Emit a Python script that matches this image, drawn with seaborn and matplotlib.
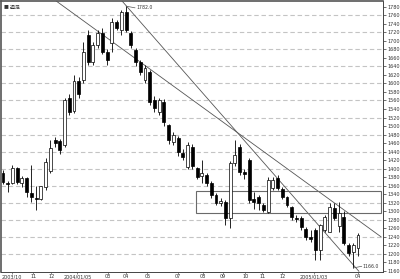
import matplotlib
matplotlib.use("Agg")
import matplotlib.pyplot as plt
import seaborn as sns
import numpy as np
import pandas as pd
from matplotlib.patches import Rectangle

# ---- data (weekly candles) ----
opens = [1389, 1366, 1366, 1401, 1366, 1378, 1342, 1330, 1328, 1356, 1394, 1467, 1465,
         1455, 1565, 1535, 1605, 1608, 1714, 1651, 1691, 1719, 1674, 1695, 1745, 1726,
         1768, 1719, 1679, 1651, 1608, 1627, 1561, 1533, 1556, 1502, 1462, 1472, 1437,
         1404, 1451, 1401, 1382, 1385, 1366, 1338, 1319, 1321, 1283, 1413, 1451, 1392,
         1420, 1328, 1333, 1314, 1298, 1354, 1378, 1352, 1333, 1309, 1284, 1284, 1258,
         1239, 1255, 1208, 1255, 1250, 1307, 1265, 1286, 1220, 1203, 1213]
highs = [1396, 1370, 1408, 1403, 1382, 1380, 1408, 1358, 1360, 1425, 1467, 1475, 1470,
         1565, 1575, 1620, 1615, 1698, 1726, 1698, 1726, 1730, 1680, 1754, 1749, 1772,
         1782, 1724, 1684, 1655, 1644, 1632, 1570, 1566, 1563, 1505, 1486, 1476, 1445,
         1462, 1458, 1404, 1420, 1390, 1370, 1342, 1330, 1326, 1418, 1467, 1458, 1398,
         1425, 1345, 1338, 1320, 1380, 1380, 1385, 1356, 1336, 1312, 1290, 1288, 1262,
         1255, 1260, 1270, 1290, 1318, 1320, 1321, 1300, 1225, 1225, 1248]
lows = [1363, 1345, 1363, 1364, 1356, 1333, 1321, 1302, 1325, 1350, 1390, 1450, 1435,
        1450, 1525, 1530, 1565, 1600, 1644, 1644, 1684, 1670, 1644, 1675, 1726, 1714,
        1720, 1684, 1640, 1620, 1600, 1550, 1533, 1526, 1500, 1458, 1455, 1430, 1420,
        1400, 1400, 1375, 1366, 1360, 1330, 1313, 1312, 1267, 1260, 1405, 1385, 1375,
        1318, 1305, 1302, 1298, 1295, 1349, 1349, 1328, 1310, 1280, 1275, 1255, 1232,
        1228, 1185, 1185, 1250, 1250, 1278, 1250, 1220, 1195, 1166, 1195]
closes = [1368, 1364, 1401, 1368, 1378, 1345, 1333, 1328, 1358, 1416, 1448, 1460, 1444,
          1561, 1533, 1605, 1575, 1674, 1651, 1691, 1719, 1674, 1655, 1745, 1731, 1768,
          1726, 1691, 1651, 1627, 1636, 1556, 1542, 1561, 1509, 1467, 1479, 1439, 1427,
          1455, 1406, 1380, 1389, 1366, 1338, 1319, 1324, 1283, 1413, 1432, 1392, 1387,
          1326, 1321, 1319, 1302, 1373, 1373, 1354, 1333, 1314, 1286, 1281, 1262, 1239,
          1234, 1208, 1267, 1286, 1309, 1283, 1295, 1225, 1201, 1220, 1244]

ytick_values = list(range(1160, 1781, 20))
grid_values = list(range(1200, 1761, 40))
xtick_pos = [1.9, 6.4, 10.2, 15.7, 22.1, 25.9, 30.5, 36.9, 42.2, 46.4, 51.2, 54.8, 59.0, 65.6, 74.9]
xtick_labels = ["2003/10", "11", "12", "2004/01/05", "03", "04", "05", "07", "08", "09",
                "10", "11", "12", "2005/01/03", "04"]

trend1_x = [11.0, 79.9]
trend1_y = [1796, 1239]
trend2_x = [25.0, 75.2]
trend2_y = [1796, 1158]
box_x = [40.8, 79.9]
box_y = [1295, 1347]

peak_label = "1782.0"
low_label = "1166.0"
title_text = "■ 週足"

# ---- figure ----
sns.set_theme(style="white")
plt.rcParams['font.family'] = ['DejaVu Sans', 'Noto Sans CJK JP']

fig = plt.figure(figsize=(4.0, 2.79), dpi=100)
ax = fig.add_axes([1/400, 1 - 272/279, 382/400, 271/279])

df = pd.DataFrame({"open": opens, "high": highs, "low": lows, "close": closes})
df["idx"] = np.arange(len(df))

# gridlines
for g in grid_values:
    ax.axhline(g, color="#c4c4c4", lw=0.8, ls=(0, (4, 2.5)), zorder=0)

# trend lines
tl = pd.DataFrame({"x": trend1_x + trend2_x, "y": trend1_y + trend2_y,
                   "line": ["a", "a", "b", "b"]})
sns.lineplot(data=tl, x="x", y="y", units="line", estimator=None, color="#555555",
             lw=0.6, ax=ax, zorder=2)

# box
ax.add_patch(Rectangle((box_x[0], box_y[0]), box_x[1] - box_x[0], box_y[1] - box_y[0],
                       fill=False, ec="#6a6a6a", lw=0.8, zorder=2))

# candles
ax.vlines(df["idx"], df["low"], df["high"], color="black", lw=0.6, zorder=3)
up = df["close"] >= df["open"]
bottoms = np.minimum(df["open"], df["close"])
heights = np.maximum(np.abs(df["close"] - df["open"]), 1.5)
ax.bar(df["idx"][up], heights[up], bottom=bottoms[up], width=0.62, color="white",
       edgecolor="black", lw=0.5, zorder=4)
ax.bar(df["idx"][~up], heights[~up], bottom=bottoms[~up], width=0.62, color="black",
       edgecolor="black", lw=0.5, zorder=4)

# annotations
pk = int(np.argmax(highs))
lo = int(np.argmin(lows))
ax.plot([pk, pk + 1.9], [highs[pk], highs[pk] - 4], color="#555555", lw=0.5, zorder=5)
ax.text(pk + 2.2, highs[pk] - 4, peak_label, fontsize=3.3, color="#333333",
        va="center", ha="left", zorder=6)
ax.plot([lo, lo + 1.8], [lows[lo], lows[lo] + 4], color="#555555", lw=0.5, zorder=5)
ax.text(lo + 2.0, lows[lo] + 4, low_label, fontsize=3.3, color="#333333",
        va="center", ha="left", zorder=6)
ax.text(0.007, 0.985, title_text, transform=ax.transAxes, fontsize=3.5,
        family=['Noto Sans CJK JP', 'DejaVu Sans'], va="top", ha="left", color="#333333")

ax.set_xlim(-0.42, 80.28)
ax.set_ylim(1156.5, 1794.1)
ax.yaxis.tick_right()
ax.set_yticks(ytick_values)
ax.set_yticklabels([str(v) for v in ytick_values])
ax.set_xticks(xtick_pos)
ax.set_xticklabels(xtick_labels)
ax.tick_params(axis="y", which="both", right=True, left=False, length=2, width=0.5,
               pad=1, labelsize=3.5, colors="#333333")
ax.tick_params(axis="x", bottom=True, length=1.2, width=0.4, pad=0.5, labelsize=3.5,
               colors="#333333")
ax.set_xlabel("")
ax.set_ylabel("")
for side in ["top", "left"]:
    ax.spines[side].set_color("#555555")
    ax.spines[side].set_linewidth(1.2)
for side in ["right", "bottom"]:
    ax.spines[side].set_color("#444444")
    ax.spines[side].set_linewidth(0.7)

fig.savefig("out.png", dpi=100)
